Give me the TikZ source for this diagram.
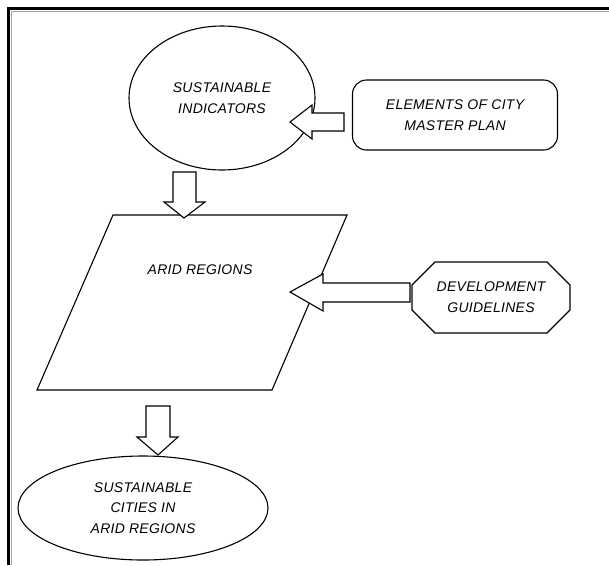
\documentclass[tikz,border=0pt]{standalone}
\usepackage{fontspec}
\setmainfont{Liberation Sans}
\usetikzlibrary{shapes.geometric}
\tikzset{
  lbl/.style={font=\fontsize{14}{20.5}\selectfont\itshape\addfontfeatures{LetterSpace=2}, align=center, text=black},
  outline/.style={draw=black, line width=1.1pt},
  blockarrow/.style={draw=black, line width=1.1pt, fill=white, line join=miter},
}
\begin{document}
\begin{tikzpicture}[x=1pt,y=-1pt]
\useasboundingbox (0,0) rectangle (609,565);
% frame
\draw[line width=2.6pt, black] (8.3,565) -- (8.3,8.3) -- (609,8.3);
\draw[line width=1pt, gray!70] (11.8,565) -- (11.8,11.8) -- (609,11.8);
% nodes
\node[outline, ellipse, minimum width=186pt, minimum height=144pt, lbl] (si) at (222,98) {SUSTAINABLE\\INDICATORS};
\node[outline, rounded corners=14pt, minimum width=205pt, minimum height=70pt, lbl] (em) at (455,115) {ELEMENTS OF CITY\\MASTER PLAN};
\draw[outline] (113,215) -- (347,215) -- (272,390) -- (37,390) -- cycle;
\node[lbl] (ar) at (200,270) {ARID REGIONS};
\draw[outline] (435,262) -- (547,262) -- (570,285) -- (570,310) -- (547,333) -- (435,333) -- (412,310) -- (412,285) -- cycle;
\node[lbl] (dg) at (491,297) {DEVELOPMENT\\GUIDELINES};
\node[outline, ellipse, minimum width=250pt, minimum height=104pt, lbl] (sc) at (143,508) {SUSTAINABLE\\CITIES IN\\ARID REGIONS};
% block arrows
\draw[blockarrow] (344,113) -- (312,113) -- (312,105) -- (290,122) -- (312,139) -- (312,131) -- (344,131) -- cycle;
\draw[blockarrow] (410,283) -- (323,283) -- (323,274) -- (290,292) -- (323,311) -- (323,302) -- (410,302) -- cycle;
\draw[blockarrow] (173,172) -- (196,172) -- (196,202) -- (205,202) -- (184,218) -- (164,202) -- (173,202) -- cycle;
\draw[blockarrow] (146,406) -- (170,406) -- (170,437) -- (178,437) -- (158,455) -- (137,437) -- (146,437) -- cycle;
\end{tikzpicture}
\end{document}
